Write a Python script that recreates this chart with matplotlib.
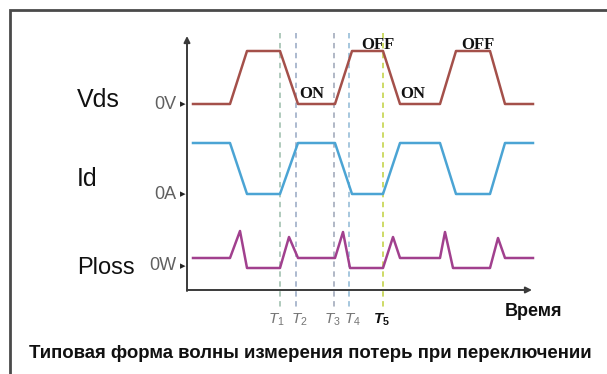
import matplotlib.pyplot as plt
from matplotlib.patches import Rectangle

# moments where the waveforms change slope (time units, 0 = vertical axis)
t_sw = [6, 43, 60, 93, 111, 148, 165, 196, 213, 253, 269, 303, 318, 346]
vds = [0, 0, 1, 1, 0, 0, 1, 1, 0, 0, 1, 1, 0, 0]
i_d = [1, 1, 0, 0, 1, 1, 0, 0, 1, 1, 0, 0, 1, 1]

# switching loss with spikes on every transition
t_loss = [6, 43, 53, 60, 93, 102, 111, 148, 156, 163, 196, 206, 213,
          253, 258, 266, 303, 311, 318, 346]
p_loss = [1, 1, 3.7, 0, 0, 3.1, 1, 1, 3.6, 0, 0, 3.1, 1,
          1, 3.6, 0, 0, 3.0, 1, 1]

t_marks = [93, 109, 147, 162, 196]
t_names = ['$T_1$', '$T_2$', '$T_3$', '$T_4$', r'$\mathbfit{T}_\mathbf{5}$']
t_colors = ['#a9c6b6', '#a6b4cc', '#aab2c2', '#9fc3db', '#c9d85a']

plt.rcParams['mathtext.fontset'] = 'custom'
plt.rcParams['mathtext.rm'] = 'Liberation Sans'
plt.rcParams['mathtext.it'] = 'Liberation Sans:italic'
plt.rcParams['mathtext.bf'] = 'Liberation Sans:bold'
plt.rcParams['mathtext.bfit'] = 'Liberation Sans:italic:bold'

fig = plt.figure(figsize=(6.07, 3.74), dpi=100)
ax = fig.add_axes([0, 0, 1, 1])
ax.set_xlim(-187, 607 - 187)
ax.set_ylim(374, 0)
ax.axis('off')

# frame of the picture (only top and left edges are visible)
fig.add_artist(Rectangle((10 / 607, -0.2), 1.2, 1.2 - 10 / 374,
                         transform=fig.transFigure, fill=False,
                         edgecolor='#4a4a4a', lw=2))

# base line (0 level) and height of one unit for each trace
vds_base, vds_amp = 104, 53
id_base, id_amp = 194, 51
pl_base, pl_amp = 268, 10

for x, c in zip(t_marks, t_colors):
    ax.plot([x, x], [33, 307], color=c, lw=1.3, ls=(0, (3, 2.5)), zorder=1)

ax.plot(t_sw, [vds_base - vds_amp * v for v in vds], color='#a4504a', lw=1.8, zorder=3)
ax.plot(t_sw, [id_base - id_amp * v for v in i_d], color='#4ba4d4', lw=1.8, zorder=3)
ax.plot(t_loss, [pl_base - pl_amp * v for v in p_loss], color='#a1408e', lw=1.8, zorder=3)

# axes with arrows
ax.annotate('', xy=(0, 36), xytext=(0, 291),
            arrowprops=dict(arrowstyle='-|>', color='#3a3a3a', lw=1.4,
                            mutation_scale=9, shrinkA=0, shrinkB=0))
ax.annotate('', xy=(345, 290), xytext=(0, 290),
            arrowprops=dict(arrowstyle='-|>', color='#3a3a3a', lw=1.4,
                            mutation_scale=9, shrinkA=0, shrinkB=0))

sans = ['Liberation Sans', 'DejaVu Sans']
ax.text(-110, 100, 'Vds', fontsize=18, family=sans, va='center', ha='left', color='#111')
ax.text(-110, 179, 'Id', fontsize=18, family=sans, va='center', ha='left', color='#111')
ax.text(-110, 268, 'Ploss', fontsize=17, family=sans, va='center', ha='left', color='#111')

for lab, yb in [('0V', vds_base), ('0A', id_base), ('0W', pl_base - 2)]:
    ax.text(-11, yb, lab, fontsize=13, family=sans, va='center', ha='right', color='#606060')
    ax.text(-1, yb, '\u25b8', fontsize=8, family=sans, va='center', ha='right', color='#222')

serif = ['Liberation Serif', 'DejaVu Serif']
for x, lab in [(112, 'ON'), (213, 'ON')]:
    ax.text(x, 94, lab, fontsize=12, family=serif, weight='bold', va='center', ha='left', color='#111')
for x, lab in [(174, 'OFF'), (274, 'OFF')]:
    ax.text(x, 45, lab, fontsize=12, family=serif, weight='bold', va='center', ha='left', color='#111')

# small horizontal nudges so the crowded labels stay apart
nudge = [-4, 3, -2, 3, -1]
for i, (x, lab) in enumerate(zip(t_marks, t_names)):
    c = '#111111' if i == 4 else '#757575'
    ax.text(x + nudge[i], 320, lab, fontsize=11, va='center', ha='center', color=c)

ax.text(346, 312, 'Время', fontsize=13, family=sans, weight='bold', va='center', ha='center', color='#111')
ax.text(123, 353, 'Типовая форма волны измерения потерь при переключении',
        fontsize=13.4, family=sans, weight='bold', va='center', ha='center', color='#111')

fig.savefig('out.png', dpi=100)
